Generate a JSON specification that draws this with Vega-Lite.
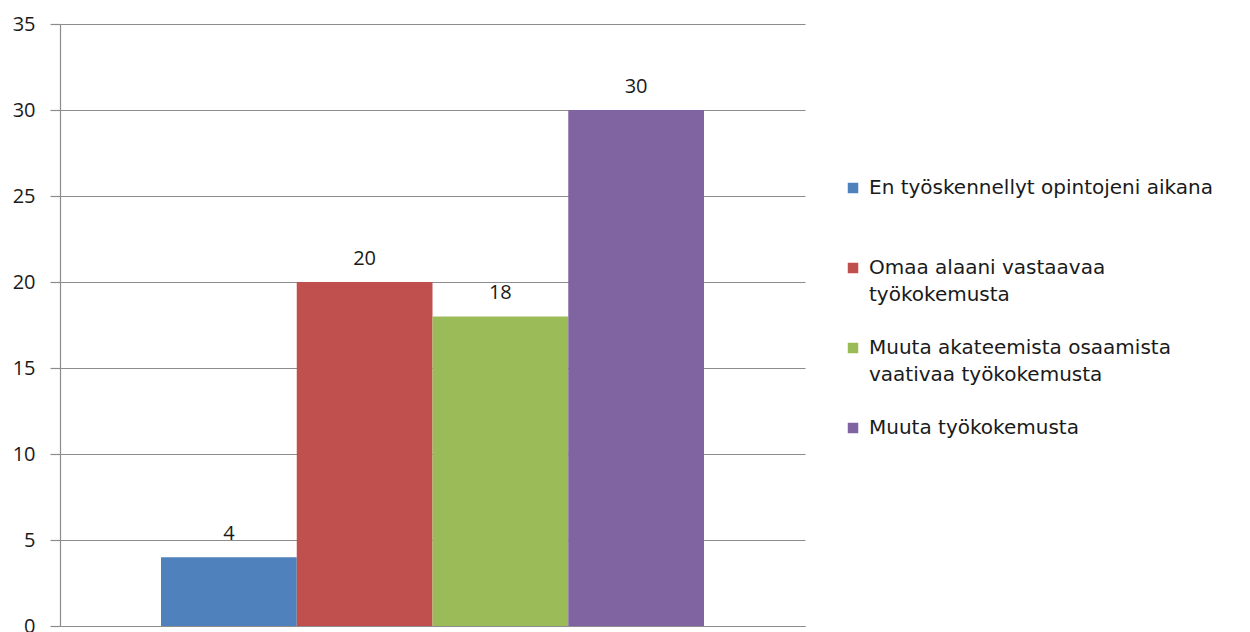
{
  "$schema": "https://vega.github.io/schema/vega-lite/v6.json",
  "width": 745,
  "height": 602,
  "autosize": {"type": "none"},
  "padding": {"left": 60, "top": 24, "right": 445, "bottom": 6},
  "background": "white",
  "data": {"values": [
    {"series": "En työskennellyt opintojeni aikana", "value": 4},
    {"series": "Omaa alaani vastaavaa työkokemusta", "value": 20},
    {"series": "Muuta akateemista osaamista vaativaa työkokemusta", "value": 18},
    {"series": "Muuta työkokemusta", "value": 30}
  ]},
  "config": {
    "view": {"stroke": null},
    "font": "Open Sans",
    "axis": {"labelFont": "Open Sans", "labelColor": "#1a1a1a"},
    "legend": {"labelFont": "DejaVu Sans"}
  },
  "encoding": {
    "x": {
      "field": "series", "type": "nominal", "sort": null,
      "scale": {"paddingInner": 0, "paddingOuter": 0.744},
      "axis": {"labels": false, "ticks": false, "title": null, "domainColor": "#8c8c8c", "domainWidth": 1.2}
    },
    "y": {
      "field": "value", "type": "quantitative",
      "scale": {"domain": [0, 35], "nice": false},
      "axis": {
        "values": [0, 5, 10, 15, 20, 25, 30, 35], "title": null,
        "gridColor": "#8c8c8c", "gridWidth": 1.2, "gridOpacity": 1,
        "domainColor": "#8c8c8c", "domainWidth": 1.2,
        "tickColor": "#8c8c8c", "tickSize": 10, "tickWidth": 1.2,
        "labelFontSize": 20, "labelPadding": 15
      }
    }
  },
  "layer": [
    {
      "mark": {"type": "bar"},
      "encoding": {
        "color": {
          "field": "series", "type": "nominal", "sort": null,
          "scale": {"range": ["#4F81BD", "#C0504D", "#9BBB59", "#8064A2"]},
          "legend": {
            "title": null, "orient": "none", "legendX": 783, "legendY": 154,
            "symbolType": "square", "symbolSize": 110, "symbolStrokeWidth": 0,
            "labelFontSize": 20, "labelColor": "#1a1a1a", "labelLimit": 500,
            "rowPadding": 33, "labelOffset": 6,
            "labelExpr": "datum.label == 'Omaa alaani vastaavaa työkokemusta' ? ['Omaa alaani vastaavaa', 'työkokemusta'] : datum.label == 'Muuta akateemista osaamista vaativaa työkokemusta' ? ['Muuta akateemista osaamista', 'vaativaa työkokemusta'] : [datum.label, ' ']",
            "encode": {"labels": {"update": {"lineHeight": {"value": 27}}}}
          }
        }
      }
    },
    {
      "mark": {"type": "text", "baseline": "alphabetic", "dy": -17, "fontSize": 20, "color": "#1a1a1a"},
      "encoding": {"text": {"field": "value", "type": "quantitative"}}
    }
  ]
}
